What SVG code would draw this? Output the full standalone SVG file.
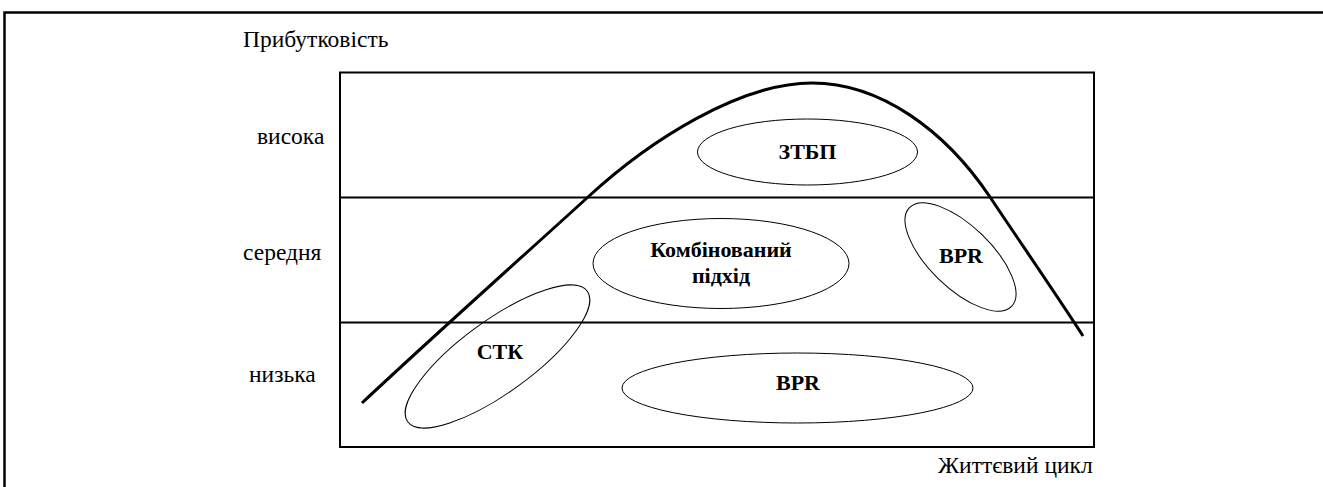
<svg xmlns="http://www.w3.org/2000/svg" width="1323" height="487" viewBox="0 0 1323 487">
<style>
.lbl{font-family:"Liberation Serif","Times New Roman",serif;font-size:23.5px;fill:#000}
.b{font-family:"Liberation Serif","Times New Roman",serif;font-size:22px;font-weight:bold;fill:#000;text-anchor:middle}
.el{fill:none;stroke:#000;stroke-width:1}
.ln{fill:none;stroke:#000;stroke-width:2}
</style>
<rect width="1323" height="487" fill="#fff"/>
<g id="frame">
<path d="M4.5,487 L4.5,12.5 L1323,12.5" fill="none" stroke="#000" stroke-width="2.5"/>
</g>
<g id="axes">
<text class="lbl" x="243" y="47">Прибутковість</text>
<text class="lbl" x="938" y="473">Життєвий цикл</text>
<text class="lbl" x="257" y="144">висока</text>
<text class="lbl" x="243" y="260">середня</text>
<text class="lbl" x="249" y="382">низька</text>
</g>
<g id="grid">
<rect class="ln" x="340" y="72.5" width="754" height="374.5"/>
<line class="ln" x1="340" y1="197.5" x2="1094" y2="197.5"/>
<line class="ln" x1="340" y1="322.5" x2="1094" y2="322.5"/>
</g>
<g id="connectors">
<path d="M362,403 C440,330 530,250 588,197 C650,140 740,83 812,83 C880,83 945,130 990,197 C1020,242 1060,300 1083,336" fill="none" stroke="#000" stroke-width="3"/>
</g>
<g id="node-ztbp">
<ellipse class="el" cx="807.5" cy="152" rx="110" ry="33"/>
<text class="b" x="807.5" y="159">ЗТБП</text>
</g>
<g id="node-combined">
<ellipse class="el" cx="721" cy="263.5" rx="128" ry="45"/>
<text class="b" x="721" y="257">Комбінований</text>
<text class="b" x="721" y="283">підхід</text>
</g>
<g id="node-bpr-mid">
<ellipse class="el" cx="960.5" cy="257" rx="71" ry="31" transform="rotate(44 960.5 257)"/>
<text class="b" x="961" y="263">BPR</text>
</g>
<g id="node-stk">
<ellipse class="el" cx="497.5" cy="356.5" rx="111" ry="36" transform="rotate(-36 497.5 356.5)"/>
<text class="b" x="500" y="359">СТК</text>
</g>
<g id="node-bpr-low">
<ellipse class="el" cx="797.5" cy="388" rx="175.5" ry="35"/>
<text class="b" x="798" y="390">BPR</text>
</g>
</svg>
